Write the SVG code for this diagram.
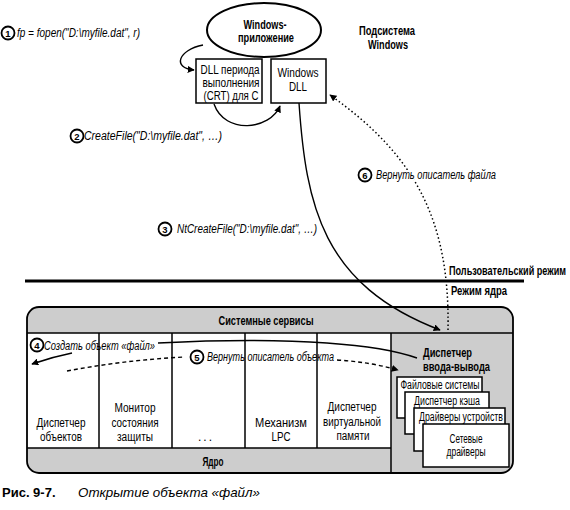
<svg xmlns="http://www.w3.org/2000/svg" width="570" height="510" viewBox="0 0 570 510">
<style>
text{font-family:"Liberation Sans Narrow","Liberation Sans",Arial,sans-serif;font-size:12px;fill:#000}
.b{font-weight:bold}
.i{font-style:italic}
.c{text-anchor:middle}
.n{font-size:9.5px;font-weight:bold;text-anchor:middle}
.halo{stroke:#fff;stroke-width:4;paint-order:stroke;stroke-linejoin:round}
.box{fill:#fff;stroke:#000;stroke-width:1.5}
.ln{fill:none;stroke:#000;stroke-width:1.5}
.num{fill:#fff;stroke:#000;stroke-width:1.8}
.sol{fill:none;stroke:#000;stroke-width:1.4}
.dot{fill:none;stroke:#000;stroke-width:1.5;stroke-dasharray:1.5 2.5}
.dash{fill:none;stroke:#000;stroke-width:1.4;stroke-dasharray:4 3}
.cap{font-family:"Liberation Sans",Arial,sans-serif;font-size:13px}
</style>
<defs>
<marker id="ah" viewBox="0 0 10 10" refX="9" refY="5" markerWidth="7" markerHeight="7" markerUnits="userSpaceOnUse" orient="auto">
<path d="M0,0 L10,5 L0,10 z" fill="#000"/>
</marker>
</defs>

<g id="windows-app">
<ellipse cx="264" cy="30" rx="57" ry="27" fill="#fff" stroke="#000" stroke-width="2"/>
<text class="b c" x="265" y="29" textLength="43" lengthAdjust="spacingAndGlyphs">Windows-</text>
<text class="b c" x="266" y="42" textLength="56" lengthAdjust="spacingAndGlyphs">приложение</text>
</g>

<g id="crt-dll">
<rect class="box" x="196" y="59" width="66" height="44"/>
<text class="c" x="230" y="74" textLength="59" lengthAdjust="spacingAndGlyphs">DLL периода</text>
<text class="c" x="231" y="87" textLength="57" lengthAdjust="spacingAndGlyphs">выполнения</text>
<text class="c" x="231" y="100" textLength="55" lengthAdjust="spacingAndGlyphs">(CRT) для C</text>
</g>

<g id="windows-dll">
<rect class="box" x="271" y="59" width="55" height="44"/>
<text class="c" x="298" y="77" textLength="41" lengthAdjust="spacingAndGlyphs">Windows</text>
<text class="c" x="298" y="91" textLength="18" lengthAdjust="spacingAndGlyphs">DLL</text>
</g>

<g id="subsystem-label">
<text class="b c" x="387" y="35" textLength="56" lengthAdjust="spacingAndGlyphs">Подсистема</text>
<text class="b c" x="388" y="49" textLength="40" lengthAdjust="spacingAndGlyphs">Windows</text>
</g>

<g id="mode-boundary">
<line x1="25" y1="281" x2="524" y2="281" stroke="#000" stroke-width="3"/>
<text class="b" transform="translate(449,275) scale(0.76,1)" x="0" y="0" textLength="154" lengthAdjust="spacingAndGlyphs">Пользовательский режим</text>
<text class="b" x="451" y="295" textLength="56" lengthAdjust="spacingAndGlyphs">Режим ядра</text>
</g>

<g id="kernel">
<rect x="27" y="307" width="486" height="166" rx="12" fill="#cdcdcd"/>
<rect x="27" y="333" width="364" height="115" fill="#fff"/>
<line class="ln" x1="27" y1="333" x2="513" y2="333" stroke-width="2"/>
<line class="ln" x1="27" y1="448" x2="391" y2="448"/>
<line class="ln" x1="99" y1="333" x2="99" y2="448"/>
<line class="ln" x1="172" y1="333" x2="172" y2="448"/>
<line class="ln" x1="245" y1="333" x2="245" y2="448"/>
<line class="ln" x1="317" y1="333" x2="317" y2="448"/>
<line class="ln" x1="391" y1="333" x2="391" y2="473"/>
<rect x="27" y="307" width="486" height="166" rx="12" fill="none" stroke="#000" stroke-width="1.8"/>
<text class="b c" x="266" y="325" textLength="95" lengthAdjust="spacingAndGlyphs">Системные сервисы</text>
<text class="b c" x="213" y="466" font-size="11" textLength="21" lengthAdjust="spacingAndGlyphs">Ядро</text>
</g>

<g id="object-manager">
<text class="c" x="61" y="427" textLength="49" lengthAdjust="spacingAndGlyphs">Диспетчер</text>
<text class="c" x="61" y="441" textLength="42" lengthAdjust="spacingAndGlyphs">объектов</text>
</g>
<g id="security-monitor">
<text class="c" x="135" y="412" textLength="41" lengthAdjust="spacingAndGlyphs">Монитор</text>
<text class="c" x="135" y="427" textLength="47" lengthAdjust="spacingAndGlyphs">состояния</text>
<text class="c" x="135" y="441" textLength="36" lengthAdjust="spacingAndGlyphs">защиты</text>
</g>
<g id="other">
<text class="c" x="206" y="441" letter-spacing="2">...</text>
</g>
<g id="lpc">
<text class="c" x="281" y="427" textLength="52" lengthAdjust="spacingAndGlyphs">Механизм</text>
<text class="c" x="281" y="441" textLength="19" lengthAdjust="spacingAndGlyphs">LPC</text>
</g>
<g id="vm-manager">
<text class="c" x="352" y="411" textLength="49" lengthAdjust="spacingAndGlyphs">Диспетчер</text>
<text class="c" x="352" y="426" textLength="58" lengthAdjust="spacingAndGlyphs">виртуальной</text>
<text class="c" x="353" y="440" textLength="33" lengthAdjust="spacingAndGlyphs">памяти</text>
</g>

<g id="io-manager">
<text class="b" x="423" y="357" font-size="13" textLength="49" lengthAdjust="spacingAndGlyphs">Диспетчер</text>
<text class="b" x="423" y="371" font-size="13" textLength="67" lengthAdjust="spacingAndGlyphs">ввода-вывода</text>
</g>
<g id="file-systems">
<rect class="box" x="397" y="377" width="85" height="41"/>
<text class="c" x="440" y="389" textLength="79" lengthAdjust="spacingAndGlyphs">Файловые системы</text>
</g>
<g id="cache-manager">
<rect class="box" x="405" y="392" width="84" height="42"/>
<text class="c" x="447" y="405" textLength="66" lengthAdjust="spacingAndGlyphs">Диспетчер кэша</text>
</g>
<g id="device-drivers">
<rect class="box" x="414" y="408" width="91" height="43"/>
<text class="c" x="461" y="421" textLength="84" lengthAdjust="spacingAndGlyphs">Драйверы устройств</text>
</g>
<g id="network-drivers">
<rect class="box" x="423" y="424" width="86" height="43"/>
<text class="c" x="466" y="443" textLength="33" lengthAdjust="spacingAndGlyphs">Сетевые</text>
<text class="c" x="466" y="456" textLength="39" lengthAdjust="spacingAndGlyphs">драйверы</text>
</g>

<g id="connectors">
<path class="sol" d="M203,45 C178,50 172,68 194,70" marker-end="url(#ah)"/>
<path class="sol" d="M214,104 C225,135 270,130 280,106" marker-end="url(#ah)"/>
<path class="sol" d="M299,103 C306,205 322,285 440,330" marker-end="url(#ah)"/>
<path class="dot" d="M448,330 C450,220 415,155 330,95" marker-end="url(#ah)"/>
<path class="sol" d="M417,358 C380,345 300,336 158,343"/>
<path class="sol" d="M72,353 Q52,357 32,364" marker-end="url(#ah)"/>
<path class="dash" d="M67,371 Q125,360 185,357"/>
<path class="dash" d="M337,360 Q370,362 398,370" marker-end="url(#ah)"/>
</g>

<g id="labels">
<circle class="num" cx="8" cy="33" r="6.5"/><text class="n" x="8" y="36.5">1</text>
<text class="i" x="17" y="37" textLength="123" lengthAdjust="spacingAndGlyphs">fp = fopen("D:\myfile.dat", r)</text>
<circle class="num" cx="77" cy="136" r="6.5"/><text class="n" x="77" y="139.5">2</text>
<text class="i" x="84" y="140" textLength="138" lengthAdjust="spacingAndGlyphs">CreateFile("D:\myfile.dat", …)</text>
<circle class="num" cx="165" cy="229" r="6.5"/><text class="n" x="165" y="232.5">3</text>
<text class="i" x="177" y="233" textLength="140" lengthAdjust="spacingAndGlyphs">NtCreateFile("D:\myfile.dat", …)</text>
<circle class="num" cx="365" cy="175" r="6.5"/><text class="n" x="365" y="178.5">6</text>
<text class="i halo" x="376" y="179" textLength="120" lengthAdjust="spacingAndGlyphs">Вернуть описатель файла</text>
<circle class="num" cx="37" cy="345" r="6.5"/><text class="n" x="37" y="348.5">4</text>
<text class="i" x="44" y="350" textLength="111" lengthAdjust="spacingAndGlyphs">Создать объект «файл»</text>
<circle class="num" cx="197" cy="357" r="6.5"/><text class="n" x="197" y="360.5">5</text>
<text class="i" x="207" y="361" textLength="127" lengthAdjust="spacingAndGlyphs">Вернуть описатель объекта</text>
</g>

<g id="caption">
<text class="cap b" x="2" y="497">Рис. 9-7.</text>
<text class="cap i" x="78" y="497" textLength="182" lengthAdjust="spacingAndGlyphs">Открытие объекта «файл»</text>
</g>
</svg>
